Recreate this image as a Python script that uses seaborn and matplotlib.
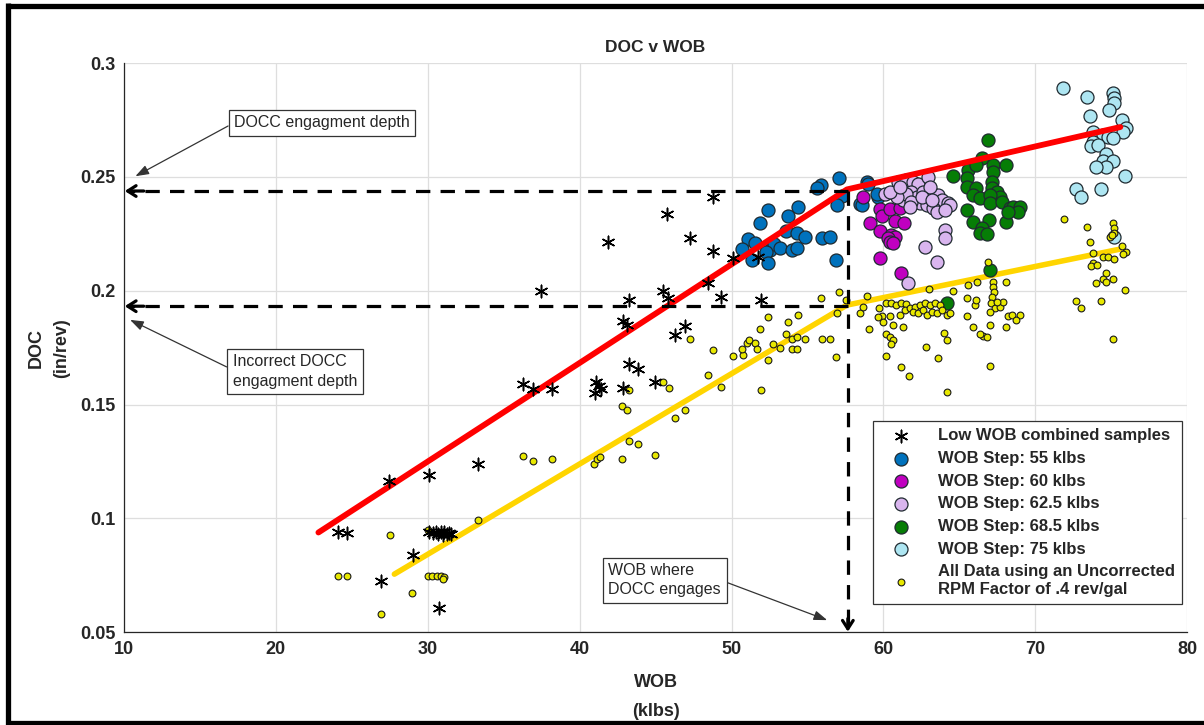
import matplotlib
matplotlib.use("Agg")
import matplotlib.pyplot as plt
from matplotlib.lines import Line2D
import pandas as pd
import seaborn as sns

# ---------------- data ----------------
low_wob = [24.07, 24.66, 27.47, 30.08, 33.28, 29.0, 26.92, 30.74,
           30.1, 30.35, 30.55, 30.7, 30.85, 31.0, 31.1, 31.25, 31.4, 31.55,
           36.29, 36.95, 38.2, 37.43,
           41.84, 45.72, 47.26, 48.8, 48.8, 50.07, 51.76, 48.45, 49.3, 45.46,
           45.83, 43.22, 51.96, 42.87, 43.13, 46.27, 46.97, 43.25, 43.86,
           44.96, 42.87, 41.1, 41.3, 41.0, 41.4]
low_doc = [0.0938, 0.0937, 0.1163, 0.119, 0.1238, 0.0841, 0.0725, 0.0607,
           0.0940, 0.0935, 0.0942, 0.0930, 0.0938, 0.0925, 0.0940, 0.0932, 0.0936, 0.0930,
           0.159, 0.157, 0.157, 0.1999,
           0.2215, 0.2335, 0.2232, 0.241, 0.2175, 0.2145, 0.215, 0.2032, 0.1973, 0.1998,
           0.1969, 0.1959, 0.1959, 0.1868, 0.1849, 0.1805, 0.1844, 0.1676, 0.1657,
           0.1601, 0.1573, 0.160, 0.158, 0.155, 0.157]

step55_wob = [55.88, 55.6, 57.09, 57.3, 56.96, 52.37, 54.35, 53.75, 51.87, 53.62,
              54.28, 54.87, 55.99, 56.48, 51.08, 51.52, 50.66, 52.53, 52.81, 53.19,
              53.95, 54.33, 52.26, 51.36, 52.37, 56.87, 58.93, 58.45, 59.66, 59.0,
              59.55, 58.56]
step55_doc = [0.2464, 0.2452, 0.2496, 0.2416, 0.2376, 0.2354, 0.2367, 0.2328, 0.2296, 0.2262,
              0.2252, 0.2234, 0.2232, 0.2237, 0.2228, 0.221, 0.2183, 0.2181, 0.2205, 0.2186,
              0.2181, 0.2186, 0.2171, 0.2134, 0.212, 0.2134, 0.2479, 0.2379, 0.2413, 0.2471,
              0.2427, 0.2376]

step60_wob = [58.67, 59.77, 59.88, 60.43, 61.09, 59.11, 60.76, 61.37, 59.8, 60.53,
              60.76, 60.31, 60.43, 60.6, 59.8, 61.13]
step60_doc = [0.2413, 0.2358, 0.2328, 0.2357, 0.2364, 0.2296, 0.2306, 0.2296, 0.2263, 0.2244,
              0.2237, 0.223, 0.2215, 0.2211, 0.2142, 0.208]

step625_wob = [60.1, 60.76, 60.98, 61.52, 61.96, 62.29, 62.95, 61.85, 62.18, 62.62,
               63.28, 63.61, 63.83, 64.27, 64.38, 62.4, 62.84, 63.28, 63.5, 64.05,
               61.3, 61.52, 60.87, 61.85, 60.43, 64.05, 64.05, 62.73, 63.5, 61.63,
               61.09, 63.06, 62.51, 63.17, 61.74]
step625_doc = [0.2425, 0.2427, 0.2479, 0.2486, 0.2479, 0.2471, 0.25, 0.2435, 0.2413, 0.2435,
               0.2427, 0.242, 0.2398, 0.2384, 0.2376, 0.2384, 0.2376, 0.2362, 0.2347, 0.2354,
               0.2398, 0.2427, 0.2413, 0.2391, 0.2435, 0.2266, 0.223, 0.2193, 0.2127, 0.2032,
               0.2457, 0.2457, 0.2413, 0.2398, 0.2369]

step685_wob = [66.9, 66.46, 65.58, 66.13, 67.22, 68.1, 64.6, 65.48, 67.22, 67.12,
               65.48, 66.13, 67.12, 67.45, 67.66, 65.91, 66.35, 67.0, 67.0, 67.78,
               65.48, 66.96, 65.91, 66.46, 66.35, 66.79, 68.1, 68.32, 68.54, 68.98,
               68.87, 68.21, 67.0, 64.16]
step685_doc = [0.2662, 0.2581, 0.253, 0.2552, 0.2552, 0.2552, 0.2504, 0.2493, 0.2522, 0.2479,
               0.2457, 0.245, 0.245, 0.2435, 0.2413, 0.242, 0.2406, 0.242, 0.2384, 0.2391,
               0.2354, 0.231, 0.2303, 0.2274, 0.2252, 0.2249, 0.2303, 0.2362, 0.2369, 0.2369,
               0.2347, 0.2347, 0.209, 0.1944]

step75_wob = [71.84, 73.38, 75.09, 75.18, 75.18, 74.87, 73.59, 75.68, 76.0, 75.79,
              73.81, 74.47, 74.8, 75.13, 73.81, 73.7, 74.14, 74.69, 74.47, 75.09,
              74.69, 74.03, 75.9, 72.67, 72.98, 74.36, 75.18]
step75_doc = [0.2891, 0.2849, 0.287, 0.2845, 0.2823, 0.2793, 0.2768, 0.275, 0.2713, 0.2698,
              0.2698, 0.2684, 0.2676, 0.2669, 0.2655, 0.2635, 0.264, 0.2599, 0.2569, 0.2569,
              0.2544, 0.2544, 0.2504, 0.2445, 0.241, 0.2445, 0.2237]

uncorr_wob = [24.07, 24.66, 27.51, 26.92, 28.98, 30.03, 30.03, 30.29, 30.58, 30.84,
              31.07, 30.98, 33.28, 36.24, 36.95, 38.15, 40.94, 41.12, 41.34, 42.82,
              44.98, 42.82, 43.15, 43.25, 45.46, 45.88, 46.27, 46.97, 47.26, 48.75,
              48.46, 49.28, 43.22, 43.86,
              50.07, 50.77, 50.66, 50.99, 51.14, 51.52, 51.69, 51.87, 52.37, 52.37,
              51.96, 52.7, 53.19, 53.58, 53.95, 54.28, 53.75, 54.35, 53.95, 54.28,
              54.87, 55.99, 56.48, 56.87, 55.88, 57.09, 56.96, 57.57, 58.89,
              58.45, 58.67, 59.06, 59.73, 59.88, 59.95, 59.66,
              60.2, 60.53, 60.86, 61.19, 61.52,
              60.43, 61.09, 61.42, 61.74, 62.07, 62.4, 62.73, 63.06, 63.39, 63.72,
              61.96, 62.29, 62.62, 62.88, 63.17, 63.5, 63.83, 64.16, 64.38,
              60.64, 61.3, 60.2, 60.43, 60.64, 60.53,
              60.2, 61.15, 61.68, 62.8, 63.57, 63.98, 64.16, 64.16, 64.6, 63.0,
              65.48, 65.48, 65.58, 65.91, 66.02, 66.13, 66.17, 66.57, 66.35, 66.79,
              67.0, 67.0,
              66.9, 67.19, 67.23, 67.28, 67.12, 67.06, 67.34, 67.67, 67.85, 67.49,
              67.01, 68.1, 68.21, 68.5, 68.98, 68.76, 68.06,
              71.88, 73.38, 75.09, 75.18, 75.18, 74.91, 75.02, 73.59, 75.68, 76.0,
              75.79, 73.81, 74.47, 74.8, 75.18, 73.81, 73.7, 74.07, 74.69, 74.47,
              75.09, 74.69, 73.99, 75.9, 72.67, 72.98, 74.36, 75.09]
uncorr_doc = [0.0749, 0.0746, 0.0925, 0.0579, 0.0674, 0.0951, 0.0746, 0.0749, 0.0749, 0.0749,
              0.0743, 0.0734, 0.0992, 0.1273, 0.1251, 0.1259, 0.1238, 0.1259, 0.1268, 0.1259,
              0.1279, 0.1493, 0.1475, 0.1566, 0.16, 0.1573, 0.1443, 0.1475, 0.1786, 0.1739,
              0.1629, 0.1578, 0.1339, 0.1325,
              0.1713, 0.1717, 0.1746, 0.1771, 0.1783, 0.1771, 0.1742, 0.1834, 0.1883, 0.1695,
              0.1566, 0.1765, 0.1749, 0.1808, 0.1787, 0.1797, 0.1861, 0.1893, 0.1743, 0.1746,
              0.1787, 0.1786, 0.1789, 0.1707, 0.1966, 0.1995, 0.19, 0.1958, 0.1976,
              0.1903, 0.1929, 0.1834, 0.1922, 0.1888, 0.1863, 0.1885,
              0.1944, 0.1947, 0.1937, 0.1947, 0.1941,
              0.1888, 0.1893, 0.1915, 0.1922, 0.1929, 0.1937, 0.1944, 0.1937, 0.1944, 0.1937,
              0.1907, 0.19, 0.1915, 0.1893, 0.1907, 0.19, 0.1915, 0.1893, 0.19,
              0.1849, 0.1841, 0.1812, 0.1797, 0.1783, 0.1768,
              0.1713, 0.1666, 0.1625, 0.1754, 0.1703, 0.1815, 0.1783, 0.1556, 0.2, 0.2006,
              0.1887, 0.1968, 0.2025, 0.1842, 0.1937, 0.1959, 0.204, 0.1801, 0.1812, 0.1797,
              0.1849, 0.1669,
              0.2127, 0.204, 0.2017, 0.1995, 0.1973, 0.1944, 0.1922, 0.1929, 0.1951, 0.1951,
              0.1907, 0.204, 0.1887, 0.1893, 0.1893, 0.1871, 0.1842,
              0.2313, 0.2281, 0.2296, 0.2274, 0.2254, 0.2237, 0.2244, 0.2212, 0.2197, 0.2168,
              0.216, 0.2164, 0.2149, 0.2146, 0.2138, 0.2123, 0.2108, 0.2112, 0.2079, 0.2051,
              0.2051, 0.2039, 0.2035, 0.2003, 0.1954, 0.1926, 0.1954, 0.179]

# piecewise fits
fit_wob = [22.8, 57.6, 75.6]
fit_doc = [0.0938, 0.2445, 0.2719]
uncorr_fit_wob = [27.8, 57.6, 75.6]
uncorr_fit_doc = [0.0755, 0.1937, 0.2183]

# engagement markers
engage_wob = 57.66
engage_doc = 0.2438
incorrect_doc = 0.1932

x_ticks = [10, 20, 30, 40, 50, 60, 70, 80]
y_ticks = [0.05, 0.1, 0.15, 0.2, 0.25, 0.3]
y_tick_labels = ["0.05", "0.1", "0.15", "0.2", "0.25", "0.3"]

# ---------------- style ----------------
sns.set_theme(style="white")
plt.rcParams["font.family"] = ["Liberation Sans", "DejaVu Sans"]
plt.rcParams["axes.unicode_minus"] = False

fig = plt.figure(figsize=(12.04, 7.25), dpi=100)
ax = fig.add_axes([0.103, 0.128, 0.883, 0.785])

axis_grey = "#262626"

def frame(wob, doc):
    return pd.DataFrame({"WOB": wob, "DOC": doc})

# uncorrected fit line sits beneath the markers
sns.lineplot(data=frame(uncorr_fit_wob, uncorr_fit_doc), x="WOB", y="DOC", ax=ax,
             color="#FFD500", lw=4.0, sort=False, estimator=None, zorder=2,
             legend=False)

sns.scatterplot(data=frame(low_wob, low_doc), x="WOB", y="DOC", ax=ax,
                marker=(6, 2, 0), s=80, color="black", linewidth=1.1,
                label="Low WOB combined samples", zorder=6)

groups = [
    (step55_wob, step55_doc, "#0072BD", "WOB Step: 55 klbs"),
    (step60_wob, step60_doc, "#C000C0", "WOB Step: 60 klbs"),
    (step625_wob, step625_doc, "#D9B5EE", "WOB Step: 62.5 klbs"),
    (step685_wob, step685_doc, "#067D06", "WOB Step: 68.5 klbs"),
    (step75_wob, step75_doc, "#AEE6F2", "WOB Step: 75 klbs"),
]
for w, d, c, lab in groups:
    sns.scatterplot(data=frame(w, d), x="WOB", y="DOC", ax=ax, s=88,
                    color=c, edgecolor="#1f2a30", linewidth=0.9,
                    label=lab, zorder=3)

sns.scatterplot(data=frame(uncorr_wob, uncorr_doc), x="WOB", y="DOC", ax=ax, s=24,
                color="#E8E800", edgecolor="#1a1a1a", linewidth=0.8,
                label="All Data using an Uncorrected\nRPM Factor of .4 rev/gal", zorder=3)

sns.lineplot(data=frame(fit_wob, fit_doc), x="WOB", y="DOC", ax=ax,
             color="#FF0000", lw=4.2, sort=False, estimator=None, zorder=5,
             legend=False)

# dashed guides with arrowheads at the axes
dash_kw = dict(color="black", lw=2.3, dashes=(4.5, 3.2), zorder=7)
ax.plot([engage_wob, 10.25], [engage_doc, engage_doc], **dash_kw)
ax.plot([engage_wob, 10.25], [incorrect_doc, incorrect_doc], **dash_kw)
ax.plot([engage_wob, engage_wob], [engage_doc, 0.0512], **dash_kw)
head_kw = dict(arrowstyle="->,head_length=0.5,head_width=0.32", lw=2.3,
               color="black", shrinkA=0, shrinkB=0)
ax.annotate("", xy=(10.05, engage_doc), xytext=(11.3, engage_doc),
            arrowprops=head_kw, zorder=8)
ax.annotate("", xy=(10.05, incorrect_doc), xytext=(11.3, incorrect_doc),
            arrowprops=head_kw, zorder=8)
ax.annotate("", xy=(engage_wob, 0.0502), xytext=(engage_wob, 0.056),
            arrowprops=head_kw, zorder=8)

# text call-outs
box = dict(boxstyle="square,pad=0.35", fc="white", ec="#333333", lw=0.9)
arrow_kw = dict(arrowstyle="-|>,head_length=0.7,head_width=0.25", lw=0.9,
                color="#333333", shrinkA=0, shrinkB=0)
ax.annotate("DOCC engagment depth", xy=(10.75, 0.2503), xytext=(17.25, 0.2738),
            ha="left", va="center", fontsize=11.5, bbox=box,
            arrowprops=dict(relpos=(0, 0.5), **arrow_kw), zorder=9)
ax.annotate("Incorrect DOCC\nengagment depth", xy=(10.4, 0.1872), xytext=(17.15, 0.1645),
            ha="left", va="center", fontsize=11.5, bbox=box, linespacing=1.35,
            arrowprops=dict(relpos=(0, 0.55), **arrow_kw), zorder=9)
ax.annotate("WOB where\nDOCC engages", xy=(56.3, 0.0553), xytext=(41.9, 0.0728),
            ha="left", va="center", fontsize=11.5, bbox=box, linespacing=1.35,
            arrowprops=dict(relpos=(1, 0.5), **arrow_kw), zorder=9)

# axes
ax.set_xlim(10, 80)
ax.set_ylim(0.05, 0.3)
ax.set_xticks(x_ticks)
ax.set_xticklabels([str(t) for t in x_ticks])
ax.set_yticks(y_ticks)
ax.set_yticklabels(y_tick_labels)
ax.grid(True, color="#DEDEDE", lw=0.9, zorder=0)
ax.set_axisbelow(True)
for side in ("top", "right"):
    ax.spines[side].set_visible(False)
for side in ("left", "bottom"):
    ax.spines[side].set_color(axis_grey)
    ax.spines[side].set_linewidth(0.9)
ax.tick_params(direction="in", length=7, width=0.9, color=axis_grey,
               labelsize=13, labelcolor=axis_grey, pad=6)
for lbl in ax.get_xticklabels() + ax.get_yticklabels():
    lbl.set_fontweight("bold")

ax.set_title("DOC v WOB", fontsize=12.5, fontweight="bold", color=axis_grey, pad=8)
ax.set_xlabel("WOB\n(klbs)", fontsize=13, fontweight="bold", color=axis_grey,
              labelpad=12, linespacing=1.9)
ax.set_ylabel("DOC\n(in/rev)", fontsize=13, fontweight="bold", color=axis_grey,
              labelpad=7, linespacing=1.7)

leg = ax.legend(loc="lower right", bbox_to_anchor=(0.9953, 0.049), frameon=True,
                fancybox=False, edgecolor="#333333", framealpha=1,
                prop={"weight": "bold", "size": 12}, handletextpad=1.0,
                labelspacing=0.46, borderpad=0.45, handlelength=2.4,
                borderaxespad=0)
leg.get_frame().set_linewidth(0.9)
leg.set_zorder(10)

# black frame along the left, top and bottom of the figure
frame_kw = dict(transform=fig.transFigure, color="black", lw=3.8, zorder=20,
                solid_capstyle="butt")
left_x = 7.5 / 1204
top_y = 1 - 5.5 / 725
bot_y = 2.5 / 725
fig.lines.append(Line2D([left_x, left_x], [bot_y - 0.003, top_y + 0.003], **frame_kw))
fig.lines.append(Line2D([left_x, 1.0], [top_y, top_y], **frame_kw))
fig.lines.append(Line2D([left_x, 1.0], [bot_y, bot_y], **frame_kw))

fig.savefig("out.png", dpi=100)
